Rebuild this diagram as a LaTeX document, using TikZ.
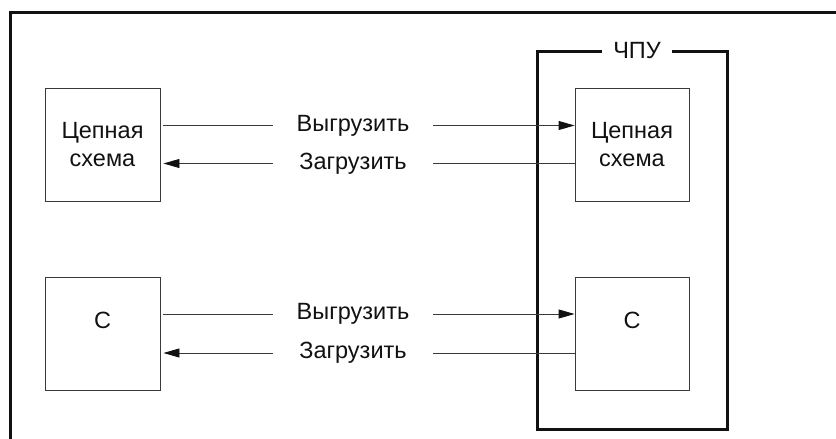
\documentclass[tikz,border=0pt]{standalone}
\usepackage{fontspec}
\setmainfont{Liberation Sans}
\usetikzlibrary{arrows.meta,positioning,calc}
\definecolor{ink}{HTML}{111111}
\definecolor{wire}{HTML}{3A3A3A}

\begin{document}
\begin{tikzpicture}[
    x=1pt, y=-1pt,
    >={Triangle[length=16pt, width=9pt, color=ink]},
    every node/.style={font=\fontsize{23.5}{28}\selectfont, text=ink},
    unit/.style={draw=wire, line width=0.9pt, minimum width=115pt,
        minimum height=113pt, inner sep=0pt, align=center},
    frame/.style={draw=ink, line width=3pt},
    flow/.style={inner sep=0pt, minimum width=160pt, minimum height=20pt},
    conn/.style={draw=wire, line width=0.9pt},
]
\clip (0,0) rectangle (836,439);

% Outer frame (cut off right and below)
\draw[frame] (10,460) |- (860,12);

% CNC frame
\node[frame, minimum width=190pt, minimum height=378pt] (cnc) at (632,240) {};
\node[fill=white, inner xsep=11pt, inner ysep=2pt] (cnctag) at (637,51) {ЧПУ};

% Left units
\node[unit] (lch) at (102.5,144.5) {Цепная\\схема};
\node[unit] (lc) at (102.5,334) {С\\\mbox{}};

% Right units (inside CNC)
\node[unit, minimum width=114pt] (rch) at (632,144.5) {Цепная\\схема};
\node[unit, minimum width=114pt] (rc) at (632,334) {С\\\mbox{}};

% Labels
\node[flow] (up1) at (353,125.5) {Выгрузить};
\node[flow] (dn1) at (353,163.5) {Загрузить};
\node[flow] (up2) at (353,314) {Выгрузить};
\node[flow] (dn2) at (353,353) {Загрузить};

% Upper pair
\draw[conn, shorten <=3pt] ([yshift=19pt]lch.east) -- (up1.west);
\draw[conn, ->] (up1.east) -- ([yshift=19pt]rch.west);
\draw[conn, <-, shorten <=3pt] ([yshift=-19pt]lch.east) -- (dn1.west);
\draw[conn] (dn1.east) -- ([yshift=-19pt]rch.west);

% Lower pair
\draw[conn, shorten <=3pt] ([yshift=20pt]lc.east) -- (up2.west);
\draw[conn, ->] (up2.east) -- ([yshift=20pt]rc.west);
\draw[conn, <-, shorten <=3pt] ([yshift=-19pt]lc.east) -- (dn2.west);
\draw[conn] (dn2.east) -- ([yshift=-19pt]rc.west);

\end{tikzpicture}
\end{document}
